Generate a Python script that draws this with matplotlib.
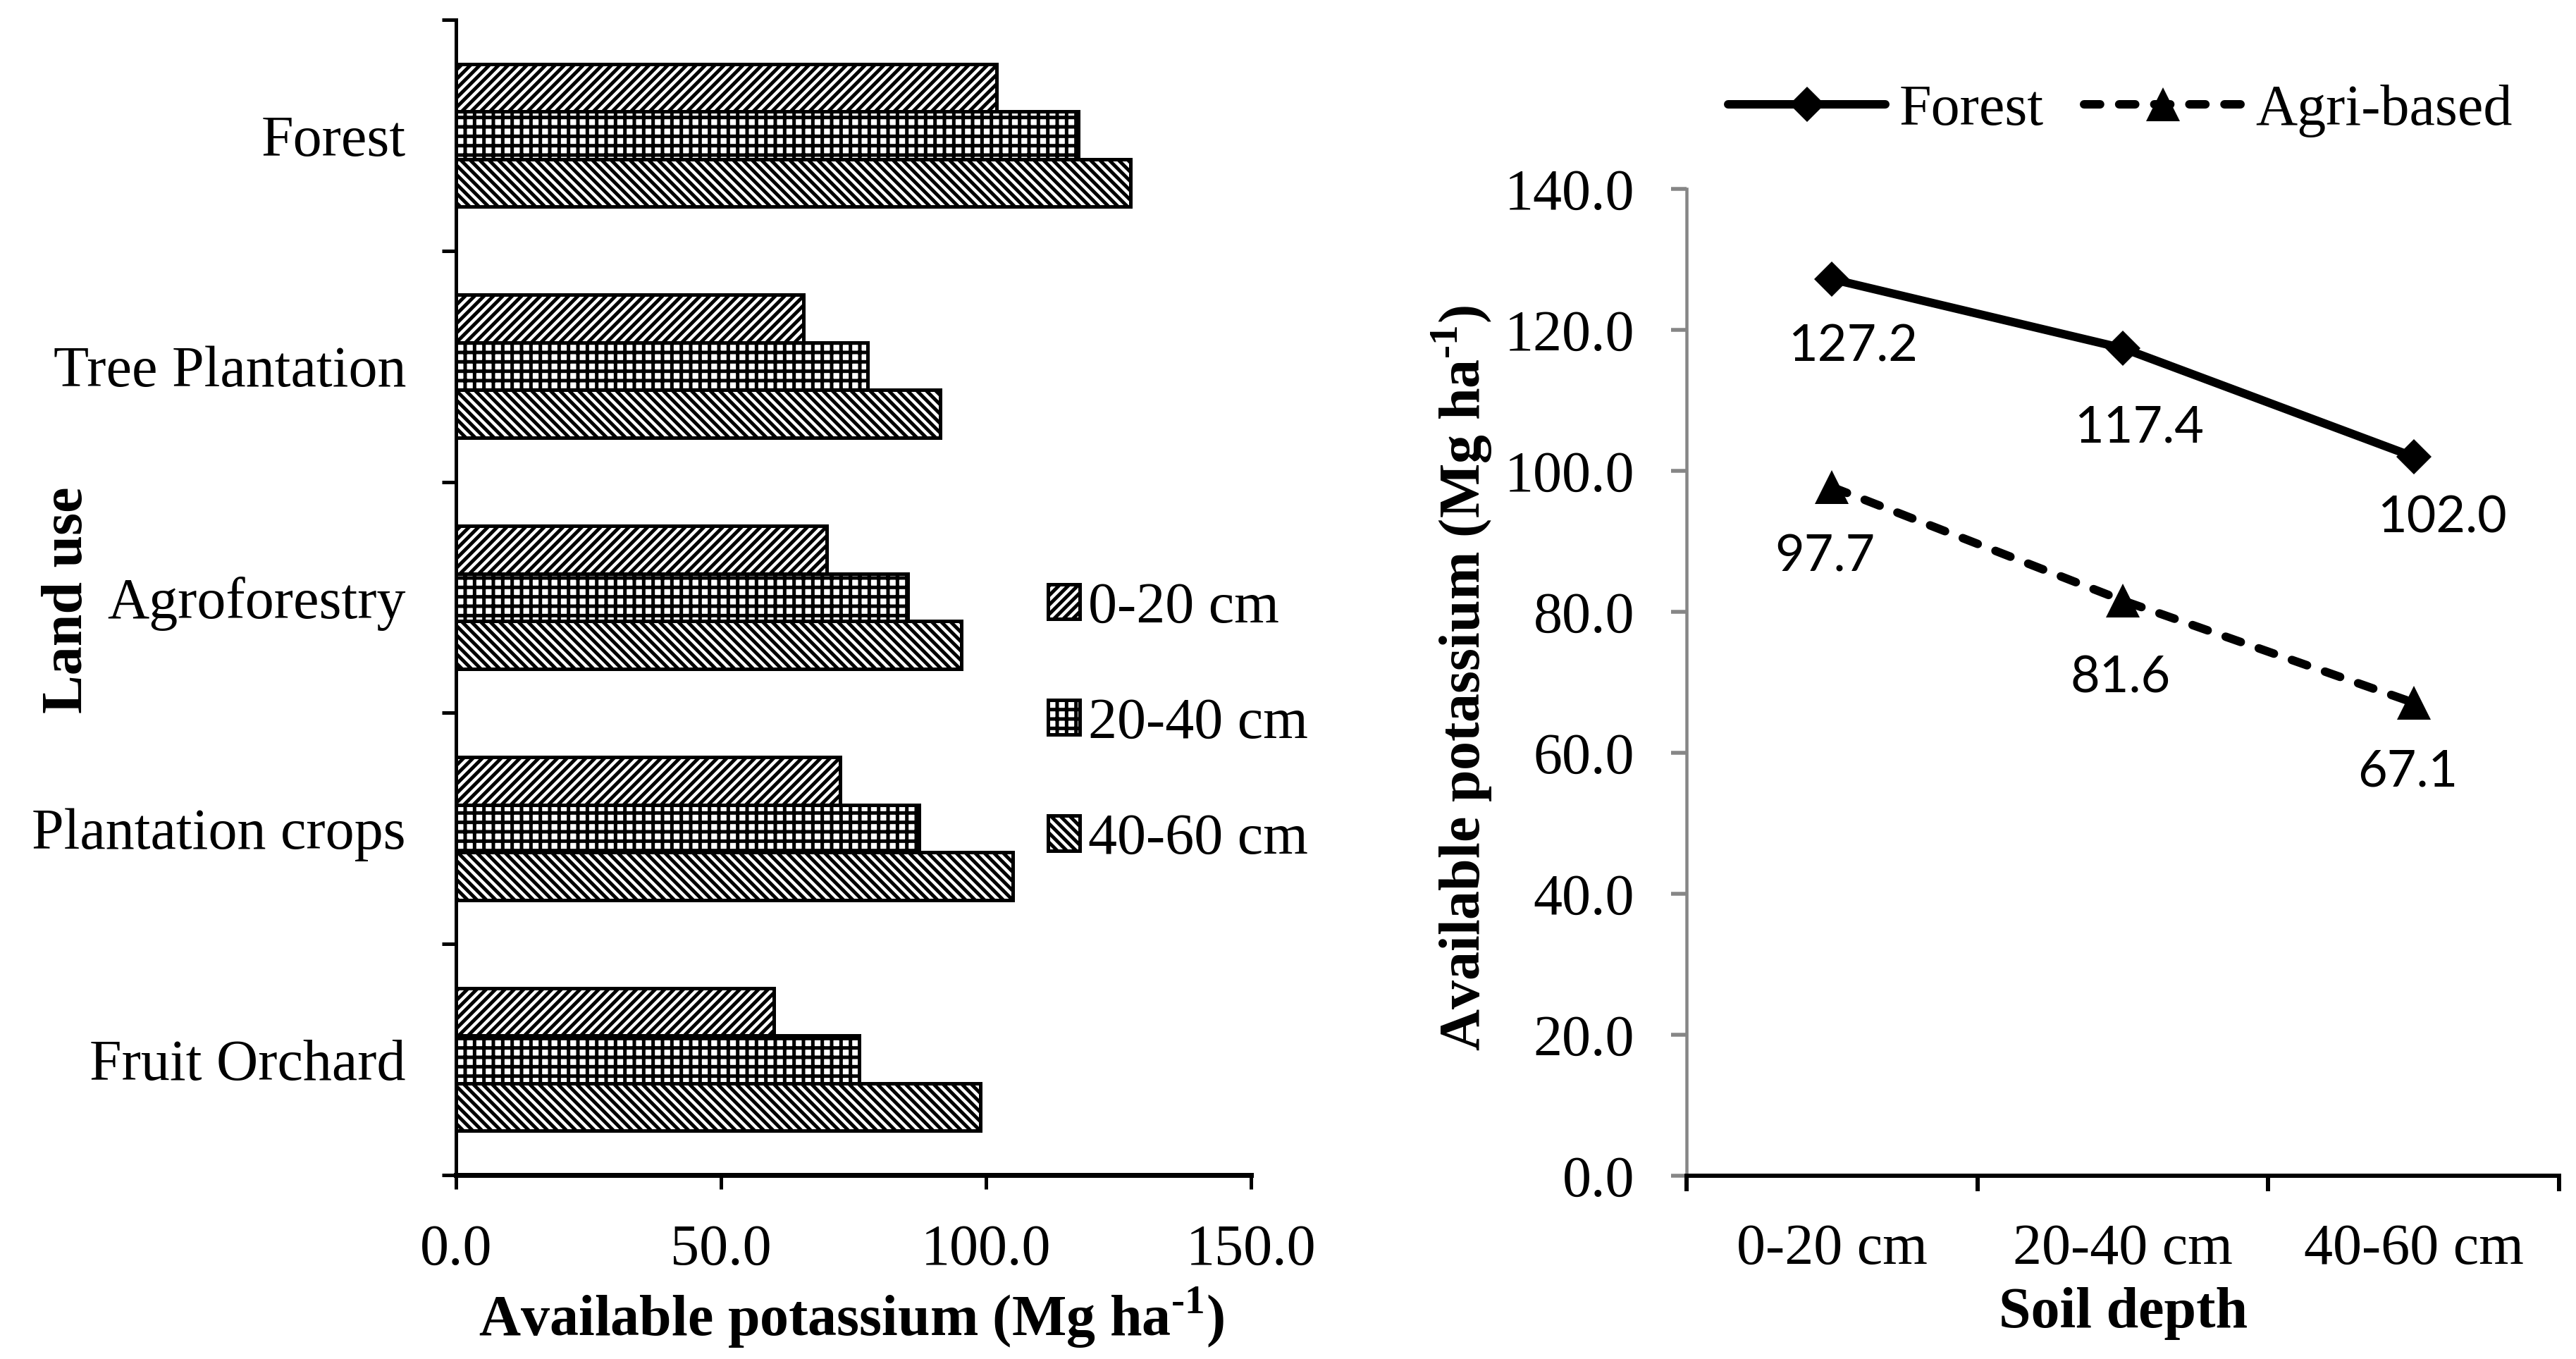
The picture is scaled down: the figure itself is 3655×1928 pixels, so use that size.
import numpy as np
import matplotlib
matplotlib.use('Agg')
import matplotlib.pyplot as plt
from matplotlib.ticker import FixedLocator, FuncFormatter, NullFormatter

# data
land_use = ['Forest', 'Tree Plantation', 'Agroforestry', 'Plantation crops', 'Fruit Orchard']
k_0_20 = [102.0, 65.5, 70.0, 72.5, 60.0]
k_20_40 = [117.4, 77.7, 85.2, 87.4, 76.0]
k_40_60 = [127.2, 91.3, 95.4, 105.0, 99.0]
depth_labels = ['0-20 cm', '20-40 cm', '40-60 cm']
forest_k = [127.2, 117.4, 102.0]
agri_k = [97.7, 81.6, 67.1]

W, H, DPI = 3655, 1928, 80


def px(v):
    # pixels -> points
    return v * 72.0 / DPI


SERIF = 'Liberation Serif'
FS = px(82)
plt.rcParams['font.family'] = SERIF
plt.rcParams['mathtext.fontset'] = 'custom'
plt.rcParams['mathtext.rm'] = SERIF + ':bold'
plt.rcParams['mathtext.bf'] = SERIF + ':bold'
plt.rcParams['hatch.linewidth'] = px(5)
plt.rcParams['hatch.color'] = 'black'

fig = plt.figure(figsize=(W / DPI, H / DPI), dpi=DPI)
fmt1 = FuncFormatter(lambda v, p: '%.1f' % v)
ylab = r'Available potassium (Mg ha$^{\text{-1}}$)'

# ---------- left: horizontal bars ----------
ax1 = fig.add_axes([647 / W, 1 - 1667 / H, (1775 - 647) / W, (1667 - 28) / H])
y = np.arange(len(land_use))[::-1]
h = 0.206
bar_kw = dict(height=h, color='white', edgecolor='black', linewidth=px(5))
ax1.barh(y + h, k_0_20, hatch='//', label='0-20 cm', **bar_kw)
ax1.barh(y, k_20_40, hatch='+', label='20-40 cm', **bar_kw)
ax1.barh(y - h, k_40_60, hatch='\\\\', label='40-60 cm', **bar_kw)

ax1.set_xlim(0, 150)
ax1.set_ylim(-0.5, len(land_use) - 0.5)
ax1.xaxis.set_major_locator(FixedLocator([0, 50, 100, 150]))
ax1.xaxis.set_major_formatter(fmt1)
ax1.yaxis.set_major_locator(FixedLocator(np.arange(-0.5, len(land_use), 1.0)))
ax1.yaxis.set_major_formatter(NullFormatter())
ax1.yaxis.set_minor_locator(FixedLocator(y))
ax1.set_yticklabels(land_use, minor=True)
for s in ['top', 'right']:
    ax1.spines[s].set_visible(False)
ax1.spines['left'].set_linewidth(px(5))
ax1.spines['bottom'].set_linewidth(px(7))
ax1.tick_params(axis='x', which='major', direction='out', length=px(20), width=px(5),
                pad=px(49), labelsize=FS)
ax1.tick_params(axis='y', which='major', direction='out', length=px(20), width=px(5))
ax1.tick_params(axis='y', which='minor', length=0, pad=px(71), labelsize=FS)

fig.legend(handles=ax1.containers, labels=['0-20 cm', '20-40 cm', '40-60 cm'],
           loc='center left', bbox_to_anchor=(1487 / W, 1 - 1027 / H), frameon=False,
           fontsize=FS, handlelength=0.55, handleheight=0.55, handletextpad=0.15,
           labelspacing=1.08, borderpad=0, borderaxespad=0)

fig.text(679 / W, 1 - 1895 / H, ylab, fontsize=FS, fontweight='bold',
         ha='left', va='baseline')
fig.text(116 / W, 1 - 851 / H, 'Land use', fontsize=FS, fontweight='bold',
         rotation=90, rotation_mode='anchor', ha='center', va='baseline')

# ---------- right: lines ----------
ax2 = fig.add_axes([2393 / W, 1 - 1668 / H, (3631 - 2393) / W, 1400 / H])
xs = np.arange(len(depth_labels))
ax2.plot(xs, forest_k, color='black', lw=px(12), marker='D', ms=px(35), mew=0,
         solid_capstyle='round', label='Forest', clip_on=False)
ax2.plot(xs, agri_k, color='black', lw=px(12), marker='^', ms=px(48), mew=0,
         linestyle=(0, (1.9, 2.25)), dash_capstyle='round', label='Agri-based', clip_on=False)

label_offsets_forest = [(30, 90), (23, 107), (40, 81)]
label_offsets_agri = [(-10, 93), (-3, 104), (-8, 92)]
for vals, offs in [(forest_k, label_offsets_forest), (agri_k, label_offsets_agri)]:
    for i, (v, (dx, dy)) in enumerate(zip(vals, offs)):
        ax2.annotate('%.1f' % v, (xs[i], v), xytext=(px(dx), -px(dy + 26.5)),
                     textcoords='offset points', ha='center', va='baseline',
                     fontsize=px(72), fontfamily='Lato')

ax2.set_xlim(-0.5, len(depth_labels) - 0.5)
ax2.set_ylim(0, 140)
ax2.yaxis.set_major_locator(FixedLocator(np.arange(0, 141, 20)))
ax2.yaxis.set_major_formatter(fmt1)
ax2.xaxis.set_major_locator(FixedLocator(np.arange(-0.5, len(depth_labels), 1.0)))
ax2.xaxis.set_major_formatter(NullFormatter())
ax2.xaxis.set_minor_locator(FixedLocator(xs))
ax2.set_xticklabels(depth_labels, minor=True)
for s in ['top', 'right']:
    ax2.spines[s].set_visible(False)
ax2.spines['left'].set_color('#868686')
ax2.spines['left'].set_linewidth(px(4.5))
ax2.spines['bottom'].set_linewidth(px(6))
ax2.tick_params(axis='y', which='major', direction='out', length=px(22), width=px(5.5),
                color='#868686', pad=px(52), labelsize=FS)
ax2.tick_params(axis='x', which='major', direction='out', length=px(22), width=px(6))
ax2.tick_params(axis='x', which='minor', length=0, pad=px(67), labelsize=FS)

fig.legend(handles=ax2.get_lines(), labels=['Forest', 'Agri-based'], ncol=2,
           loc='center left', bbox_to_anchor=(2452 / W, 1 - 157 / H), frameon=False,
           fontsize=FS, handlelength=2.72, handletextpad=0.24, columnspacing=0.7,
           borderpad=0, borderaxespad=0)

fig.text(2100 / W, 1 - 433 / H, ylab, fontsize=FS, fontweight='bold', rotation=90,
         rotation_mode='anchor', ha='right', va='baseline')
fig.text(2836 / W, 1 - 1883 / H, 'Soil depth', fontsize=FS, fontweight='bold',
         ha='left', va='baseline')

fig.savefig('out.png', dpi=DPI)
